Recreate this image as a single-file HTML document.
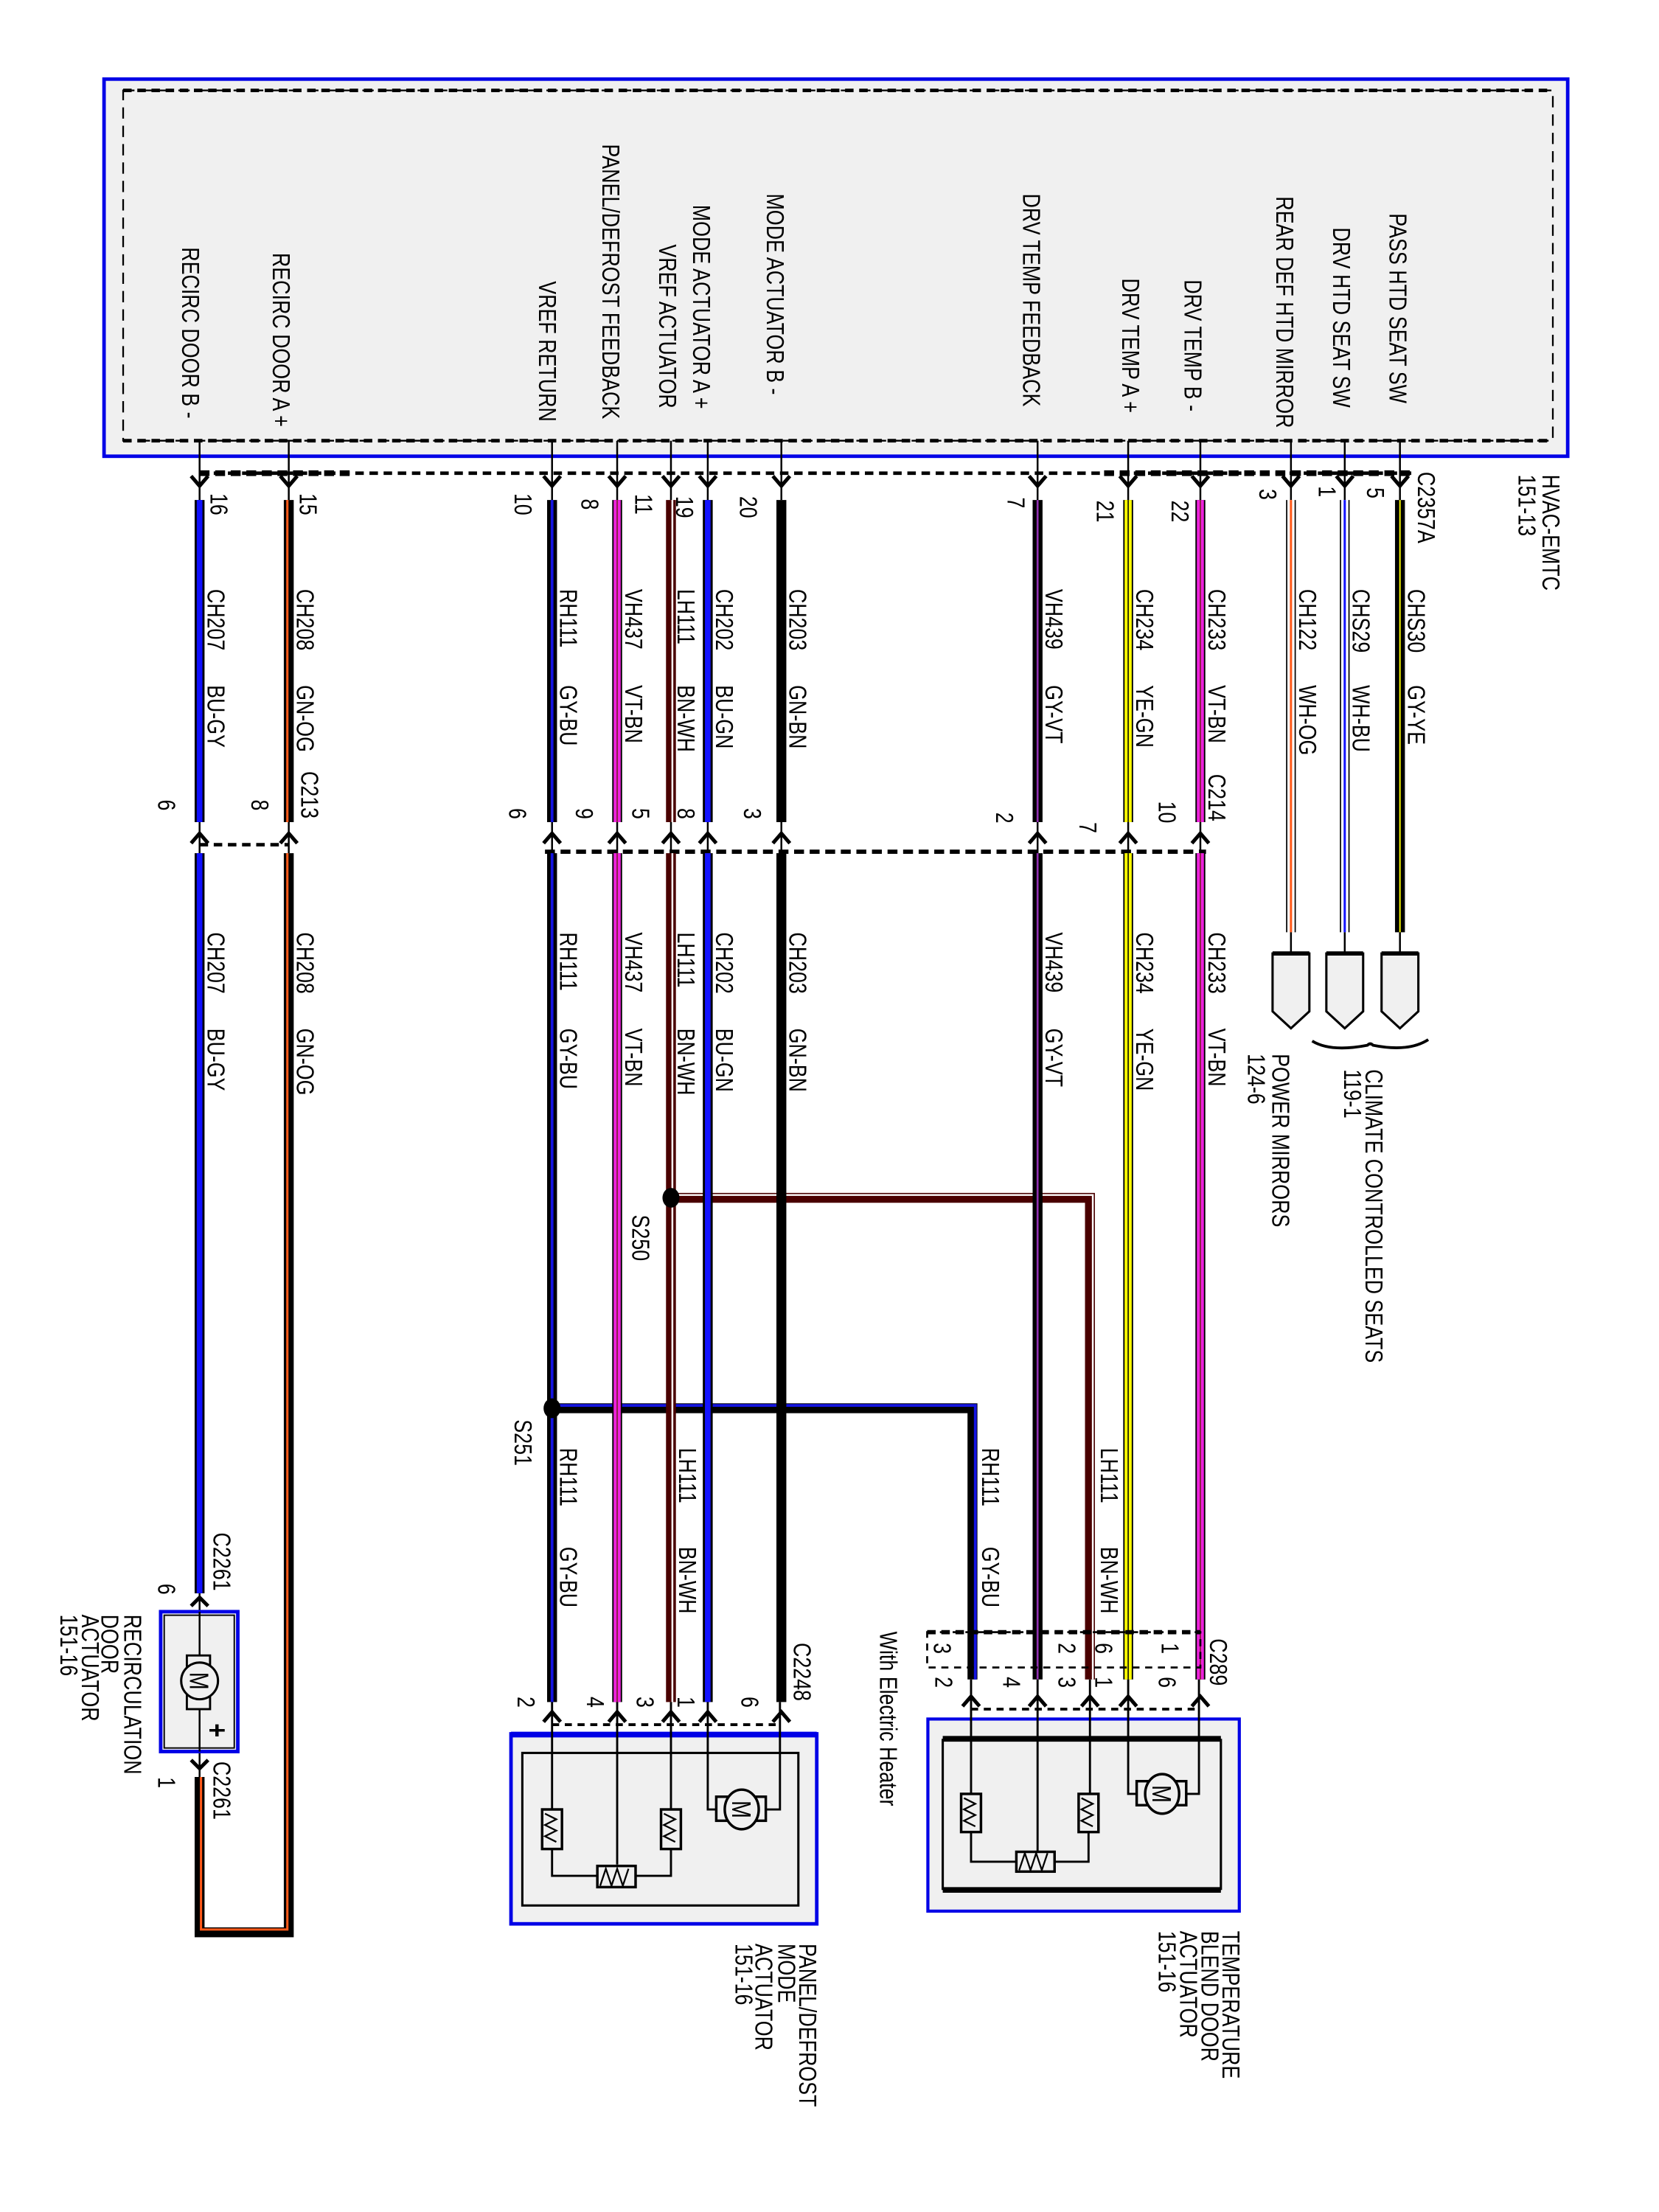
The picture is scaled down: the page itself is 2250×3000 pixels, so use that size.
<!DOCTYPE html>
<html><head><meta charset="utf-8"><style>
html,body{margin:0;padding:0;background:#fff}
svg{display:block}
text{font-family:"Liberation Sans",sans-serif;font-size:14px;fill:#000}
.l{fill:none;stroke:#000;stroke-width:1.3}
.o{stroke:#000;stroke-width:7;fill:none}
.ar{fill:none;stroke:#000;stroke-width:2.6}
</style></head><body>
<svg width="2250" height="3000" viewBox="0 0 1172 1566" preserveAspectRatio="none" xmlns="http://www.w3.org/2000/svg">
<rect x="0" y="0" width="1172" height="1566" fill="#fff"/>
<!-- HVAC module -->
<rect x="73.5" y="56" width="1034" height="267" fill="#f0f0f0" stroke="#0000e6" stroke-width="2.5"/>
<rect x="87" y="64" width="1010" height="248" fill="none" stroke="#000" stroke-width="1.2" stroke-dasharray="8,5"/>
<line x1="87" y1="312" x2="1097" y2="312" stroke="#000" stroke-width="2.5" stroke-dasharray="6,4"/>
<line x1="87" y1="64" x2="1097" y2="64" stroke="#000" stroke-width="2.5" stroke-dasharray="6,4"/>

<g>
<text transform="translate(135,175) rotate(90) scale(1,1.25)" dy="0.36em">RECIRC DOOR B -</text>
<text transform="translate(199,179) rotate(90) scale(1,1.25)" dy="0.36em">RECIRC DOOR A +</text>
<text transform="translate(387,199) rotate(90) scale(1,1.25)" dy="0.36em">VREF RETURN</text>
<text transform="translate(432,102) rotate(90) scale(1,1.25)" dy="0.36em">PANEL/DEFROST FEEDBACK</text>
<text transform="translate(472,173) rotate(90) scale(1,1.25)" dy="0.36em">VREF ACTUATOR</text>
<text transform="translate(496,145) rotate(90) scale(1,1.25)" dy="0.36em">MODE ACTUATOR A +</text>
<text transform="translate(548,137) rotate(90) scale(1,1.25)" dy="0.36em">MODE ACTUATOR B -</text>
<text transform="translate(729,137) rotate(90) scale(1,1.25)" dy="0.36em">DRV TEMP FEEDBACK</text>
<text transform="translate(799,197) rotate(90) scale(1,1.25)" dy="0.36em">DRV TEMP A +</text>
<text transform="translate(843,198) rotate(90) scale(1,1.25)" dy="0.36em">DRV TEMP B -</text>
<text transform="translate(908,139) rotate(90) scale(1,1.25)" dy="0.36em">REAR DEF HTD MIRROR</text>
<text transform="translate(948,161) rotate(90) scale(1,1.25)" dy="0.36em">DRV HTD SEAT SW</text>
<text transform="translate(988,151) rotate(90) scale(1,1.25)" dy="0.36em">PASS HTD SEAT SW</text>
</g>

<!-- top dashed connector line -->
<line x1="141" y1="335" x2="1000" y2="335" stroke="#000" stroke-width="2.5" stroke-dasharray="6,4"/>
<line x1="141" y1="335" x2="247" y2="335" stroke="#000" stroke-width="4" stroke-dasharray="7,4"/>
<line x1="780" y1="335" x2="1000" y2="335" stroke="#000" stroke-width="4" stroke-dasharray="7,4"/>

<!-- thin leads from module -->
<g class="l">
<path d="M141 312V354M204 312V354M390 312V354M436 312V354M474 312V354M500 312V354M552 312V354M733 312V354M797 312V354M848 312V354M912 312V354M950 312V354M989 312V354"/>
<path d="M141 582V604M204 582V604M390 582V604M436 582V604M474 582V604M500 582V604M552 582V604M733 582V604M797 582V604M848 582V604"/>
</g>
<!-- top arrows (pointing down) -->
<g class="ar">
<path d="M135 337L141 344L147 337M198 337L204 344L210 337M384 337L390 344L396 337M430 337L436 344L442 337M468 337L474 344L480 337M494 337L500 344L506 337M546 337L552 344L558 337M727 337L733 344L739 337M791 337L797 344L803 337M842 337L848 344L854 337M906 337L912 344L918 337M944 337L950 344L956 337M983 337L989 344L995 337"/>
<!-- C213/C214 arrows (pointing up) -->
<path d="M135 597L141 590L147 597M198 597L204 590L210 597M384 597L390 590L396 597M430 597L436 590L442 597M468 597L474 590L480 597M494 597L500 590L506 597M546 597L552 590L558 597M727 597L733 590L739 597M791 597L797 590L803 597M842 597L848 590L854 597"/>
</g>
<line x1="141" y1="598" x2="204" y2="598" stroke="#000" stroke-width="2.5" stroke-dasharray="6,4"/>
<line x1="385" y1="603" x2="852" y2="603" stroke="#000" stroke-width="3" stroke-dasharray="7,4"/>

<!-- WIRES -->
<!-- 141 BU-GY -->
<path class="o" d="M141 354V582M141 604V1128"/>
<path d="M141 354V582M141 604V1128" stroke="#1010ff" stroke-width="4" fill="none"/>
<!-- 204 GN-OG -->
<path class="o" d="M204 354V582M204 604V1368H141V1258"/>
<path d="M203 354V582M203 604V1366H142V1258" stroke="#ff5a1a" stroke-width="1.6" fill="none"/>
<!-- 390 GY-BU -->
<path class="o" d="M390 354V582M390 604V1205M390 997H687V1189"/>
<path d="M390 354V582M390 604V1205M390 995H689V1189" stroke="#1414e0" stroke-width="2" fill="none"/>
<!-- 436 VT-BN -->
<path class="o" d="M436 354V582M436 604V1205"/>
<path d="M436 354V582M436 604V1205" stroke="#ee22dd" stroke-width="5" fill="none"/>
<path d="M436 354V582M436 604V1205" stroke="#702020" stroke-width="0.8" fill="none"/>
<!-- 474 BN-WH -->
<path d="M474 354V582M474 604V1205M474 848H770V1189" stroke="#4a0000" stroke-width="7" fill="none"/>
<path d="M475 354V582M475 604V1205M474 846H772V1189" stroke="#fff" stroke-width="1.3" fill="none"/>
<!-- 500 BU-GN -->
<path class="o" d="M500 354V582M500 604V1205"/>
<path d="M500 354V582M500 604V1205" stroke="#1414ff" stroke-width="4" fill="none"/>
<!-- 552 GN-BN -->
<path class="o" d="M552 354V582M552 604V1205"/>
<!-- 733 GY-VT -->
<path class="o" d="M733 354V582M733 604V1189"/>
<path d="M733 354V582M733 604V1189" stroke="#9030b0" stroke-width="1.4" fill="none"/>
<!-- 797 YE-GN -->
<path class="o" d="M797 354V582M797 604V1189"/>
<path d="M797 354V582M797 604V1189" stroke="#ffff00" stroke-width="5" fill="none"/>
<path d="M797 354V582M797 604V1189" stroke="#000" stroke-width="0.8" fill="none"/>
<!-- 848 VT-BN -->
<path class="o" d="M848 354V582M848 604V1189"/>
<path d="M848 354V582M848 604V1189" stroke="#ee22dd" stroke-width="5" fill="none"/>
<path d="M848 354V582M848 604V1189" stroke="#702020" stroke-width="0.8" fill="none"/>
<!-- 912 WH-OG -->
<path d="M909 354V660M915 354V660" stroke="#000" stroke-width="0.9" fill="none"/>
<path d="M912 354V660" stroke="#ff5a1a" stroke-width="1.6" fill="none"/>
<!-- 950 WH-BU -->
<path d="M947 354V660M953 354V660" stroke="#000" stroke-width="0.9" fill="none"/>
<path d="M950 354V660" stroke="#1414ff" stroke-width="1.6" fill="none"/>
<!-- 989 GY-YE -->
<path class="o" d="M989 354V660"/>
<path d="M989 354V660" stroke="#ffff00" stroke-width="1" fill="none"/>

<!-- splices -->
<ellipse cx="474" cy="848" rx="6" ry="7" fill="#000"/>
<ellipse cx="390" cy="997" rx="6" ry="7" fill="#000"/>

<!-- pin numbers top -->
<g>
<text transform="translate(155,357) rotate(90) scale(1,1.25)" dy="0.36em" text-anchor="middle">16</text>
<text transform="translate(218,357) rotate(90) scale(1,1.25)" dy="0.36em" text-anchor="middle">15</text>
<text transform="translate(370,357) rotate(90) scale(1,1.25)" dy="0.36em" text-anchor="middle">10</text>
<text transform="translate(417,357) rotate(90) scale(1,1.25)" dy="0.36em" text-anchor="middle">8</text>
<text transform="translate(455,357) rotate(90) scale(1,1.25)" dy="0.36em" text-anchor="middle">11</text>
<text transform="translate(484,359) rotate(90) scale(1,1.25)" dy="0.36em" text-anchor="middle">19</text>
<text transform="translate(529,359) rotate(90) scale(1,1.25)" dy="0.36em" text-anchor="middle">20</text>
<text transform="translate(718,356) rotate(90) scale(1,1.25)" dy="0.36em" text-anchor="middle">7</text>
<text transform="translate(781,362) rotate(90) scale(1,1.25)" dy="0.36em" text-anchor="middle">21</text>
<text transform="translate(834,362) rotate(90) scale(1,1.25)" dy="0.36em" text-anchor="middle">22</text>
<text transform="translate(896,350) rotate(90) scale(1,1.25)" dy="0.36em" text-anchor="middle">3</text>
<text transform="translate(938,348) rotate(90) scale(1,1.25)" dy="0.36em" text-anchor="middle">1</text>
<text transform="translate(972,349) rotate(90) scale(1,1.25)" dy="0.36em" text-anchor="middle">5</text>
<text transform="translate(1008,334) rotate(90) scale(1,1.25)" dy="0.36em">C2357A</text>
<text transform="translate(1096,336) rotate(90) scale(1,1.25)" dy="0.36em">HVAC-EMTC</text>
<text transform="translate(1079,336) rotate(90) scale(1,1.25)" dy="0.36em">151-13</text>
</g>

<!-- wire labels upper -->
<g>
<text transform="translate(153,417) rotate(90) scale(1,1.25)" dy="0.36em">CH207</text>
<text transform="translate(153,485) rotate(90) scale(1,1.25)" dy="0.36em">BU-GY</text>
<text transform="translate(216,417) rotate(90) scale(1,1.25)" dy="0.36em">CH208</text>
<text transform="translate(216,485) rotate(90) scale(1,1.25)" dy="0.36em">GN-OG</text>
<text transform="translate(402,417) rotate(90) scale(1,1.25)" dy="0.36em">RH111</text>
<text transform="translate(402,485) rotate(90) scale(1,1.25)" dy="0.36em">GY-BU</text>
<text transform="translate(448,417) rotate(90) scale(1,1.25)" dy="0.36em">VH437</text>
<text transform="translate(448,485) rotate(90) scale(1,1.25)" dy="0.36em">VT-BN</text>
<text transform="translate(485,417) rotate(90) scale(1,1.25)" dy="0.36em">LH111</text>
<text transform="translate(485,485) rotate(90) scale(1,1.25)" dy="0.36em">BN-WH</text>
<text transform="translate(512,417) rotate(90) scale(1,1.25)" dy="0.36em">CH202</text>
<text transform="translate(512,485) rotate(90) scale(1,1.25)" dy="0.36em">BU-GN</text>
<text transform="translate(564,417) rotate(90) scale(1,1.25)" dy="0.36em">CH203</text>
<text transform="translate(564,485) rotate(90) scale(1,1.25)" dy="0.36em">GN-BN</text>
<text transform="translate(745,417) rotate(90) scale(1,1.25)" dy="0.36em">VH439</text>
<text transform="translate(745,485) rotate(90) scale(1,1.25)" dy="0.36em">GY-VT</text>
<text transform="translate(809,417) rotate(90) scale(1,1.25)" dy="0.36em">CH234</text>
<text transform="translate(809,485) rotate(90) scale(1,1.25)" dy="0.36em">YE-GN</text>
<text transform="translate(860,417) rotate(90) scale(1,1.25)" dy="0.36em">CH233</text>
<text transform="translate(860,485) rotate(90) scale(1,1.25)" dy="0.36em">VT-BN</text>
<text transform="translate(924,417) rotate(90) scale(1,1.25)" dy="0.36em">CH122</text>
<text transform="translate(924,485) rotate(90) scale(1,1.25)" dy="0.36em">WH-OG</text>
<text transform="translate(962,417) rotate(90) scale(1,1.25)" dy="0.36em">CHS29</text>
<text transform="translate(962,485) rotate(90) scale(1,1.25)" dy="0.36em">WH-BU</text>
<text transform="translate(1001,417) rotate(90) scale(1,1.25)" dy="0.36em">CHS30</text>
<text transform="translate(1001,485) rotate(90) scale(1,1.25)" dy="0.36em">GY-YE</text>
</g>
<!-- C213 / C214 -->
<g>
<text transform="translate(219,546) rotate(90) scale(1,1.25)" dy="0.36em">C213</text>
<text transform="translate(184,570) rotate(90) scale(1,1.25)" dy="0.36em" text-anchor="middle">8</text>
<text transform="translate(118,570) rotate(90) scale(1,1.25)" dy="0.36em" text-anchor="middle">6</text>
<text transform="translate(860,548) rotate(90) scale(1,1.25)" dy="0.36em">C214</text>
<text transform="translate(366,576) rotate(90) scale(1,1.25)" dy="0.36em" text-anchor="middle">6</text>
<text transform="translate(413,576) rotate(90) scale(1,1.25)" dy="0.36em" text-anchor="middle">9</text>
<text transform="translate(453,576) rotate(90) scale(1,1.25)" dy="0.36em" text-anchor="middle">5</text>
<text transform="translate(485,576) rotate(90) scale(1,1.25)" dy="0.36em" text-anchor="middle">8</text>
<text transform="translate(532,576) rotate(90) scale(1,1.25)" dy="0.36em" text-anchor="middle">3</text>
<text transform="translate(710,579) rotate(90) scale(1,1.25)" dy="0.36em" text-anchor="middle">2</text>
<text transform="translate(769,586) rotate(90) scale(1,1.25)" dy="0.36em" text-anchor="middle">7</text>
<text transform="translate(825,575) rotate(90) scale(1,1.25)" dy="0.36em" text-anchor="middle">10</text>
</g>
<!-- wire labels lower -->
<g>
<text transform="translate(153,660) rotate(90) scale(1,1.25)" dy="0.36em">CH207</text>
<text transform="translate(153,728) rotate(90) scale(1,1.25)" dy="0.36em">BU-GY</text>
<text transform="translate(216,660) rotate(90) scale(1,1.25)" dy="0.36em">CH208</text>
<text transform="translate(216,728) rotate(90) scale(1,1.25)" dy="0.36em">GN-OG</text>
<text transform="translate(402,660) rotate(90) scale(1,1.25)" dy="0.36em">RH111</text>
<text transform="translate(402,728) rotate(90) scale(1,1.25)" dy="0.36em">GY-BU</text>
<text transform="translate(448,660) rotate(90) scale(1,1.25)" dy="0.36em">VH437</text>
<text transform="translate(448,728) rotate(90) scale(1,1.25)" dy="0.36em">VT-BN</text>
<text transform="translate(485,660) rotate(90) scale(1,1.25)" dy="0.36em">LH111</text>
<text transform="translate(485,728) rotate(90) scale(1,1.25)" dy="0.36em">BN-WH</text>
<text transform="translate(512,660) rotate(90) scale(1,1.25)" dy="0.36em">CH202</text>
<text transform="translate(512,728) rotate(90) scale(1,1.25)" dy="0.36em">BU-GN</text>
<text transform="translate(564,660) rotate(90) scale(1,1.25)" dy="0.36em">CH203</text>
<text transform="translate(564,728) rotate(90) scale(1,1.25)" dy="0.36em">GN-BN</text>
<text transform="translate(745,660) rotate(90) scale(1,1.25)" dy="0.36em">VH439</text>
<text transform="translate(745,728) rotate(90) scale(1,1.25)" dy="0.36em">GY-VT</text>
<text transform="translate(809,660) rotate(90) scale(1,1.25)" dy="0.36em">CH234</text>
<text transform="translate(809,728) rotate(90) scale(1,1.25)" dy="0.36em">YE-GN</text>
<text transform="translate(860,660) rotate(90) scale(1,1.25)" dy="0.36em">CH233</text>
<text transform="translate(860,728) rotate(90) scale(1,1.25)" dy="0.36em">VT-BN</text>
<text transform="translate(453,860) rotate(90) scale(1,1.25)" dy="0.36em">S250</text>
<text transform="translate(370,1005) rotate(90) scale(1,1.25)" dy="0.36em">S251</text>
<text transform="translate(402,1025) rotate(90) scale(1,1.25)" dy="0.36em">RH111</text>
<text transform="translate(402,1095) rotate(90) scale(1,1.25)" dy="0.36em">GY-BU</text>
<text transform="translate(486,1025) rotate(90) scale(1,1.25)" dy="0.36em">LH111</text>
<text transform="translate(486,1095) rotate(90) scale(1,1.25)" dy="0.36em">BN-WH</text>
<text transform="translate(700,1025) rotate(90) scale(1,1.25)" dy="0.36em">RH111</text>
<text transform="translate(700,1095) rotate(90) scale(1,1.25)" dy="0.36em">GY-BU</text>
<text transform="translate(784,1025) rotate(90) scale(1,1.25)" dy="0.36em">LH111</text>
<text transform="translate(784,1095) rotate(90) scale(1,1.25)" dy="0.36em">BN-WH</text>
</g>

<!-- shields -->
<g fill="#f0f0f0" stroke="#000" stroke-width="1.6">
<path d="M899 675H925V716L912 728L899 716Z"/>
<path d="M937 675H963V716L950 728L937 716Z"/>
<path d="M976 675H1002V716L989 728L976 716Z"/>
</g>
<g stroke="#000" stroke-width="3"><path d="M899 675H925M937 675H963M976 675H1002"/></g>
<path class="l" d="M912 660V675M950 660V675M989 660V675"/>
<path d="M927 737Q940 745 966 740Q968 738 970 740Q995 745 1009 736" fill="none" stroke="#000" stroke-width="2"/>
<text transform="translate(905,746) rotate(90) scale(1,1.25)" dy="0.36em">POWER MIRRORS</text>
<text transform="translate(888,746) rotate(90) scale(1,1.25)" dy="0.36em">124-6</text>
<text transform="translate(971,757) rotate(90) scale(1,1.25)" dy="0.36em">CLIMATE CONTROLLED SEATS</text>
<text transform="translate(956,757) rotate(90) scale(1,1.25)" dy="0.36em">119-1</text>

<!-- RECIRCULATION ACTUATOR -->
<path class="l" d="M141 1128V1258"/>
<path class="ar" d="M135 1137L141 1131L147 1137M135 1246L141 1252L147 1246"/>
<rect x="113.5" y="1141" width="54.5" height="99" fill="#f0f0f0" stroke="#0000e6" stroke-width="2.5"/>
<rect x="116" y="1143.5" width="49.5" height="94" fill="none" stroke="#000" stroke-width="1"/>
<line x1="141" y1="1141" x2="141" y2="1240" stroke="#000" stroke-width="1.3"/>
<rect x="132" y="1172" width="16.4" height="38" fill="#f0f0f0" stroke="#000" stroke-width="1.5"/>
<ellipse cx="141" cy="1190" rx="13" ry="13" fill="#f0f0f0" stroke="#000" stroke-width="1.6"/>
<text transform="translate(141,1190) rotate(90) scale(1,1.25)" dy="0.36em" text-anchor="middle" style="font-size:15px">M</text>
<text transform="translate(154,1225) rotate(90) scale(1,1.25)" dy="0.36em" text-anchor="middle" style="font-size:17px;font-weight:bold">+</text>
<text transform="translate(157,1085) rotate(90) scale(1,1.25)" dy="0.36em">C2261</text>
<text transform="translate(118,1125) rotate(90) scale(1,1.25)" dy="0.36em" text-anchor="middle">6</text>
<text transform="translate(157,1247) rotate(90) scale(1,1.25)" dy="0.36em">C2261</text>
<text transform="translate(118,1262) rotate(90) scale(1,1.25)" dy="0.36em" text-anchor="middle">1</text>
<text transform="translate(94,1143) rotate(90) scale(1,1.25)" dy="0.36em">RECIRCULATION</text>
<text transform="translate(78,1143) rotate(90) scale(1,1.25)" dy="0.36em">DOOR</text>
<text transform="translate(64,1143) rotate(90) scale(1,1.25)" dy="0.36em">ACTUATOR</text>
<text transform="translate(49,1143) rotate(90) scale(1,1.25)" dy="0.36em">151-16</text>

<!-- MODE ACTUATOR C2248 -->
<path class="ar" d="M384 1219L390 1212L396 1219M430 1219L436 1212L442 1219M468 1219L474 1212L480 1219M494 1219L500 1212L506 1219M546 1219L552 1212L558 1219"/>
<line x1="390" y1="1221" x2="552" y2="1221" stroke="#000" stroke-width="2" stroke-dasharray="5,4"/>
<rect x="361" y="1227.5" width="216" height="134.5" fill="#f0f0f0" stroke="#0000e6" stroke-width="2.5"/>
<line x1="361" y1="1228" x2="577" y2="1228" stroke="#0000e6" stroke-width="4"/>
<rect x="369" y="1241" width="195" height="108" fill="none" stroke="#000" stroke-width="1.6"/>
<g class="l" style="stroke-width:1.5">
<path d="M390 1205V1281M390 1309V1328H422M449 1328H474V1309M474 1205V1281M436 1205V1320M500 1205V1281H506M541 1281H551V1205"/>
</g>
<g fill="#f0f0f0" stroke="#000" stroke-width="1.8">
<rect x="383" y="1281" width="14" height="28"/>
<rect x="467" y="1281" width="14" height="28"/>
<rect x="422" y="1321" width="27" height="15"/>
<rect x="506" y="1272" width="35" height="17"/>
<ellipse cx="524" cy="1281" rx="12" ry="14"/>
</g>
<path d="M385 1284l8 4-8 4 8 4-8 4 8 4M469 1284l8 4-8 4 8 4-8 4 8 4M424 1335l4-12 4 12 4-12 4 12 4-12" fill="none" stroke="#000" stroke-width="1.2"/>
<text transform="translate(524,1281) rotate(90) scale(1,1.25)" dy="0.36em" text-anchor="middle" style="font-size:15px">M</text>
<text transform="translate(567,1163) rotate(90) scale(1,1.25)" dy="0.36em">C2248</text>
<text transform="translate(372,1205) rotate(90) scale(1,1.25)" dy="0.36em" text-anchor="middle">2</text>
<text transform="translate(421,1205) rotate(90) scale(1,1.25)" dy="0.36em" text-anchor="middle">4</text>
<text transform="translate(456,1205) rotate(90) scale(1,1.25)" dy="0.36em" text-anchor="middle">3</text>
<text transform="translate(485,1205) rotate(90) scale(1,1.25)" dy="0.36em" text-anchor="middle">1</text>
<text transform="translate(530,1205) rotate(90) scale(1,1.25)" dy="0.36em" text-anchor="middle">6</text>
<text transform="translate(571,1376) rotate(90) scale(1,1.25)" dy="0.36em">PANEL/DEFROST</text>
<text transform="translate(556,1376) rotate(90) scale(1,1.25)" dy="0.36em">MODE</text>
<text transform="translate(540,1376) rotate(90) scale(1,1.25)" dy="0.36em">ACTUATOR</text>
<text transform="translate(526,1376) rotate(90) scale(1,1.25)" dy="0.36em">151-16</text>

<!-- TEMPERATURE BLEND C289 -->
<rect x="655" y="1155.5" width="193" height="25" fill="none" stroke="#000" stroke-width="1.4" stroke-dasharray="5,4"/>
<line x1="655" y1="1155.5" x2="848" y2="1155.5" stroke="#000" stroke-width="3" stroke-dasharray="6,4"/>
<path class="ar" d="M680 1208L686 1201L692 1208M727 1208L733 1201L739 1208M764 1208L770 1201L776 1208M791 1208L797 1201L803 1208M842 1208L848 1201L854 1208"/>
<line x1="686" y1="1210" x2="848" y2="1210" stroke="#000" stroke-width="2" stroke-dasharray="5,4"/>
<text transform="translate(666,1167) rotate(90) scale(1,1.25)" dy="0.36em" text-anchor="middle">3</text>
<text transform="translate(667,1191) rotate(90) scale(1,1.25)" dy="0.36em" text-anchor="middle">2</text>
<text transform="translate(715,1191) rotate(90) scale(1,1.25)" dy="0.36em" text-anchor="middle">4</text>
<text transform="translate(754,1167) rotate(90) scale(1,1.25)" dy="0.36em" text-anchor="middle">2</text>
<text transform="translate(754,1191) rotate(90) scale(1,1.25)" dy="0.36em" text-anchor="middle">3</text>
<text transform="translate(780,1167) rotate(90) scale(1,1.25)" dy="0.36em" text-anchor="middle">6</text>
<text transform="translate(780,1191) rotate(90) scale(1,1.25)" dy="0.36em" text-anchor="middle">1</text>
<text transform="translate(827,1167) rotate(90) scale(1,1.25)" dy="0.36em" text-anchor="middle">1</text>
<text transform="translate(825,1191) rotate(90) scale(1,1.25)" dy="0.36em" text-anchor="middle">6</text>
<text transform="translate(861,1160) rotate(90) scale(1,1.25)" dy="0.36em">C289</text>
<text transform="translate(628,1155) rotate(90) scale(1,1.25)" dy="0.36em">With Electric Heater</text>
<rect x="655.5" y="1217" width="220" height="136" fill="#f0f0f0" stroke="#0000e6" stroke-width="2.2"/>
<line x1="666" y1="1231" x2="862.5" y2="1231" stroke="#000" stroke-width="4"/>
<line x1="666" y1="1338" x2="862.5" y2="1338" stroke="#000" stroke-width="4"/>
<line x1="666" y1="1231" x2="666" y2="1338" stroke="#000" stroke-width="1.6"/>
<line x1="862.5" y1="1231" x2="862.5" y2="1338" stroke="#000" stroke-width="1.6"/>
<g class="l" style="stroke-width:1.5">
<path d="M686 1189V1270M686 1297V1318H718M745 1318H769V1297M770 1189V1270M733 1189V1311M797 1189V1270H803M838 1270H847V1189"/>
</g>
<g fill="#f0f0f0" stroke="#000" stroke-width="1.8">
<rect x="679" y="1270" width="14" height="27"/>
<rect x="762" y="1270" width="14" height="27"/>
<rect x="718" y="1311" width="27" height="14"/>
<rect x="803" y="1261" width="35" height="17"/>
<ellipse cx="821" cy="1270" rx="12" ry="14"/>
</g>
<path d="M681 1273l8 4-8 4 8 4-8 4 8 4M764 1273l8 4-8 4 8 4-8 4 8 4M720 1324l4-12 4 12 4-12 4 12 4-12" fill="none" stroke="#000" stroke-width="1.2"/>
<text transform="translate(821,1270) rotate(90) scale(1,1.25)" dy="0.36em" text-anchor="middle" style="font-size:15px">M</text>
<text transform="translate(870,1367) rotate(90) scale(1,1.25)" dy="0.36em">TEMPERATURE</text>
<text transform="translate(855,1367) rotate(90) scale(1,1.25)" dy="0.36em">BLEND DOOR</text>
<text transform="translate(840,1367) rotate(90) scale(1,1.25)" dy="0.36em">ACTUATOR</text>
<text transform="translate(825,1367) rotate(90) scale(1,1.25)" dy="0.36em">151-16</text>
</svg>
</body></html>
